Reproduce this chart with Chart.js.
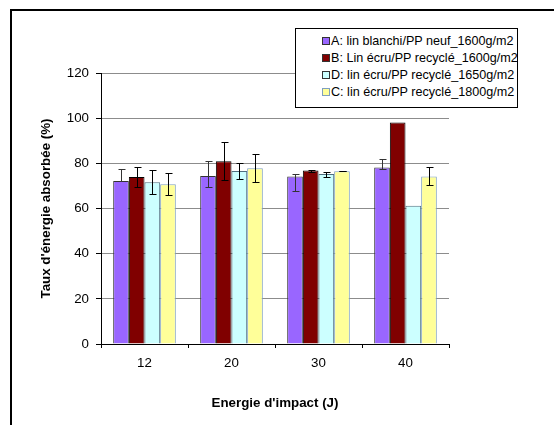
<!DOCTYPE html>
<html>
<head>
<meta charset="utf-8">
<script src="https://cdn.jsdelivr.net/npm/chart.js@4"></script>
<style>
  html, body { margin: 0; padding: 0; background: #fff; overflow: hidden; }
  #wrap { position: relative; width: 554px; height: 425px; }
  #frame { position: absolute; left: 10px; top: 9px; width: 700px; height: 600px; border: 2px solid #000; }
  #legend {
    position: absolute; left: 295px; top: 28px; width: 223px; height: 80px;
    border: 1px solid #000; background: #fff;
    font: 12.6px "Liberation Sans", Arial, sans-serif; color: #000;
    padding-top: 3.5px; box-sizing: border-box;
  }
  #legend div { height: 17px; line-height: 17px; padding-left: 26px; white-space: nowrap; }
  #legend span { display: inline-block; width: 6px; height: 6px; border: 1px solid #333; margin-right: 1px; vertical-align: 0px; }
</style>
</head>
<body>
<div id="wrap">
  <div id="frame"></div>
  <canvas id="chart" width="554" height="425"></canvas>
  <div id="legend"></div>
</div>
<script>
// catégories (énergie d'impact en J)
const energies = ["12", "20", "30", "40"];

// noms des séries
const seriesNames = [
  "A: lin blanchi/PP neuf_1600g/m2",
  "B: Lin écru/PP recyclé_1600g/m2",
  "D: lin écru/PP recyclé_1650g/m2",
  "C: lin écru/PP recyclé_1800g/m2",
];

// valeurs moyennes (%)
const serieA = [72.2, 74.4, 74.2, 78.2];
const serieB = [73.9, 80.9, 76.8, 98.1];
const serieD = [71.6, 76.6, 75.3, 61.2];
const serieC = [70.7, 77.8, 76.5, 74.2];

// barres d'erreur [bas, haut]
const errA = [[72.2, 77.3], [69.4, 80.9], [67.9, 75.1], [77.6, 82.1]];
const errB = [[69.7, 78.2], [72.5, 89.3], [76.3, 77.2], null];
const errD = [[66.2, 76.9], [73.1, 80.3], [74.1, 76.3], null];
const errC = [[65.8, 75.5], [71.6, 84.3], [76.4, 76.6], [70.2, 78.2]];

const yTicks = [0, 20, 40, 60, 80, 100, 120];

const fillColors = ["#9966ff", "#800000", "#ccffff", "#ffff99"];
const lineColors = ["#333333", "#000000", "#4f6f7f", "#7f9fbf"];
const allSeries = [serieA, serieB, serieD, serieC];
const allErrors = [errA, errB, errD, errC];

const font = "'Liberation Sans', Arial, sans-serif";

// plugin pour dessiner les barres d'erreur
const errorBars = {
  id: "errorBars",
  afterDatasetsDraw(chart) {
    const ctx = chart.ctx;
    const y = chart.scales.y;
    ctx.save();
    ctx.lineWidth = 1;
    chart.data.datasets.forEach((ds, i) => {
      const meta = chart.getDatasetMeta(i);
      allErrors[i].forEach((e, j) => {
        if (!e) return;
        const x = Math.round(meta.data[j].x) + 0.5;
        const yLow = Math.round(y.getPixelForValue(e[0])) + 0.5;
        const yHigh = Math.round(y.getPixelForValue(e[1])) + 0.5;
        ctx.strokeStyle = i === 0 ? "#333" : "#000";
        ctx.beginPath();
        ctx.moveTo(x, yLow);
        ctx.lineTo(x, yHigh);
        ctx.moveTo(x - 3, yLow);
        ctx.lineTo(x + 4, yLow);
        ctx.moveTo(x - 3, yHigh);
        ctx.lineTo(x + 4, yHigh);
        ctx.stroke();
      });
    });
    ctx.restore();
  },
};

new Chart(document.getElementById("chart"), {
  type: "bar",
  data: {
    labels: energies,
    datasets: allSeries.map((d, i) => ({
      label: seriesNames[i],
      data: d,
      backgroundColor: fillColors[i],
      borderColor: lineColors[i],
      borderWidth: 1,
      barPercentage: 1.0,
      categoryPercentage: 0.72,
    })),
  },
  options: {
    responsive: false,
    animation: false,
    layout: { padding: { left: 38, top: 73, right: 105, bottom: 14 } },
    plugins: {
      legend: { display: false },
      tooltip: { enabled: false },
    },
    scales: {
      x: {
        afterFit: (s) => { s.height = 67; },
        border: { color: "#000", width: 1 },
        grid: { drawOnChartArea: false, drawTicks: true, tickLength: 4, tickColor: "#000", offset: true },
        ticks: { color: "#000", font: { family: font, size: 13.33 }, padding: 7 },
        title: {
          display: true,
          text: "Energie d'impact (J)",
          color: "#000",
          font: { family: font, size: 13.33, weight: "bold" },
          padding: { top: 0, bottom: 0 },
        },
      },
      y: {
        min: 0,
        max: 120,
        afterFit: (s) => { s.width = 63; },
        afterBuildTicks: (s) => { s.ticks = yTicks.map((v) => ({ value: v })); },
        border: { color: "#000", width: 1 },
        grid: { color: "#8c8c8c", tickColor: "#000", tickLength: 5 },
        ticks: { color: "#000", font: { family: font, size: 13.33 }, padding: 7 },
        title: {
          display: true,
          text: "Taux d'énergie absorbée (%)",
          color: "#000",
          font: { family: font, size: 13.33, weight: "bold" },
          padding: { top: 0, bottom: 0 },
        },
      },
    },
  },
  plugins: [errorBars],
});

// légende HTML
const legend = document.getElementById("legend");
seriesNames.forEach((name, i) => {
  const row = document.createElement("div");
  const box = document.createElement("span");
  box.style.background = fillColors[i];
  box.style.borderColor = i === 3 ? "#7f9fbf" : "#333";
  row.appendChild(box);
  row.appendChild(document.createTextNode(name));
  legend.appendChild(row);
});
</script>
</body>
</html>
